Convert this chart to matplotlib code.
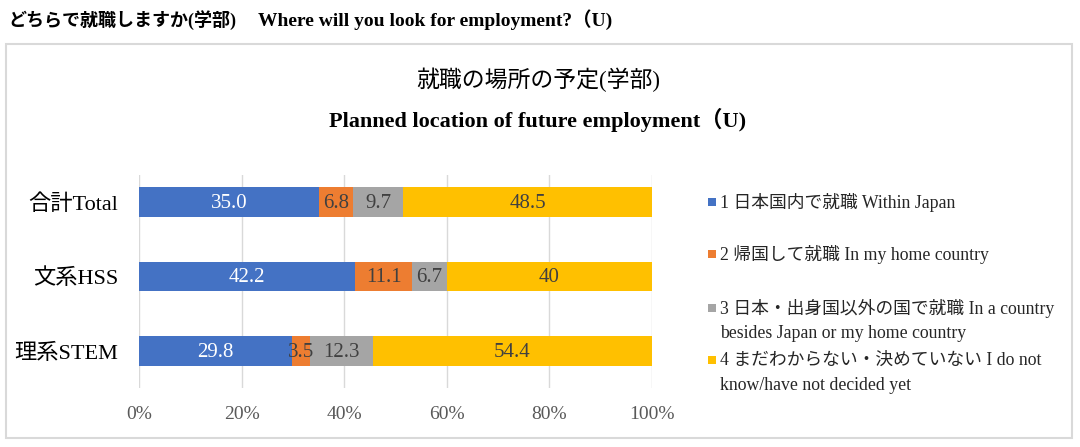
import matplotlib
matplotlib.use("Agg")
import matplotlib.pyplot as plt
from matplotlib.patches import Rectangle
import numpy as np

FAM = ['Liberation Serif', 'Noto Sans CJK JP', 'DejaVu Sans']
plt.rcParams['font.family'] = FAM

categories = ['合計Total', '文系HSS', '理系STEM']
within_japan = [35.0, 42.2, 29.8]
home_country = [6.8, 11.1, 3.5]
other_country = [9.7, 6.7, 12.3]
undecided = [48.5, 40.0, 54.4]
value_labels = [
    ['35.0', '6.8', '9.7', '48.5'],
    ['42.2', '11.1', '6.7', '40'],
    ['29.8', '3.5', '12.3', '54.4'],
]
series_names = [
    ['1 日本国内で就職 Within Japan'],
    ['2 帰国して就職 In my home country'],
    ['3 日本・出身国以外の国で就職 In a country', 'besides Japan or my home country'],
    ['4 まだわからない・決めていない I do not', 'know/have not decided yet'],
]
colors = ['#4472C4', '#ED7D31', '#A5A5A5', '#FFC000']
label_colors = ['white', '#404040', '#404040', '#404040']
xticks = [0, 20, 40, 60, 80, 100]
xtick_labels = ['0%', '20%', '40%', '60%', '80%', '100%']

W, H = 1080, 447
fig = plt.figure(figsize=(W / 100, H / 100), dpi=100)

def fx(px):
    return px / W

def fy(py):
    return 1 - py / H

# outer chart box
fig.add_artist(Rectangle((fx(6), fy(438)), fx(1072) - fx(6), fy(44) - fy(438),
                         transform=fig.transFigure, facecolor='none',
                         edgecolor='#d9d9d9', linewidth=1.5, zorder=-5))

fig.text(fx(8), fy(20), 'どちらで就職しますか(学部)', fontsize=13, fontweight='bold',
         va='center', ha='left', family=FAM)
fig.text(fx(258), fy(20), 'Where will you look for employment?（U)', fontsize=14,
         fontweight='bold', va='center', ha='left', family=FAM)
fig.text(fx(538), fy(80), '就職の場所の予定(学部)', fontsize=16.5, va='center',
         ha='center', family=FAM, color='#000000')
fig.text(fx(538), fy(120), 'Planned location of future employment（U)', fontsize=16,
         fontweight='bold', va='center', ha='center', family=FAM)

ax = fig.add_axes([fx(139), fy(388), fx(652) - fx(139), fy(175) - fy(388)])
ax.set_facecolor('none')
series = [within_japan, home_country, other_country, undecided]
y = np.arange(len(categories))
left = np.zeros(len(categories))
for i, vals in enumerate(series):
    vals = np.array(vals)
    bars = ax.barh(y, vals, left=left, height=0.40, color=colors[i], zorder=3)
    for j, b in enumerate(bars):
        ax.text(left[j] + vals[j] / 2, y[j] + 0.02, value_labels[j][i], ha='center',
                va='center', fontsize=15, color=label_colors[i], zorder=4, family=FAM)
    left += vals

ax.set_xlim(0, 100)
ax.set_ylim(2 + 37 / 74.5, -27 / 74.5)
ax.set_yticks(y)
ax.set_yticklabels(categories, fontsize=16, family=FAM)
ax.set_xticks(xticks)
ax.set_xticklabels(xtick_labels, fontsize=14, color='#595959', family=FAM)
ax.tick_params(axis='both', length=0)
ax.tick_params(axis='x', pad=13)
ax.tick_params(axis='y', pad=15)
ax.grid(axis='x', color='#d9d9d9', linewidth=1, zorder=0)
for s in ax.spines.values():
    s.set_visible(False)

# legend drawn manually
leg_y = [[202], [254], [308, 334], [360, 385]]
for i, lines in enumerate(series_names):
    ys = leg_y[i]
    fig.add_artist(Rectangle((fx(708), fy(ys[0] + 4)), fx(8), 8 / H,
                             transform=fig.transFigure, facecolor=colors[i],
                             edgecolor='none'))
    for k, line in enumerate(lines):
        fig.text(fx(720), fy(ys[k]), line, fontsize=12.8, va='center', ha='left',
                 color='#262626', family=FAM)

fig.savefig('out.png', dpi=100, facecolor='white')
